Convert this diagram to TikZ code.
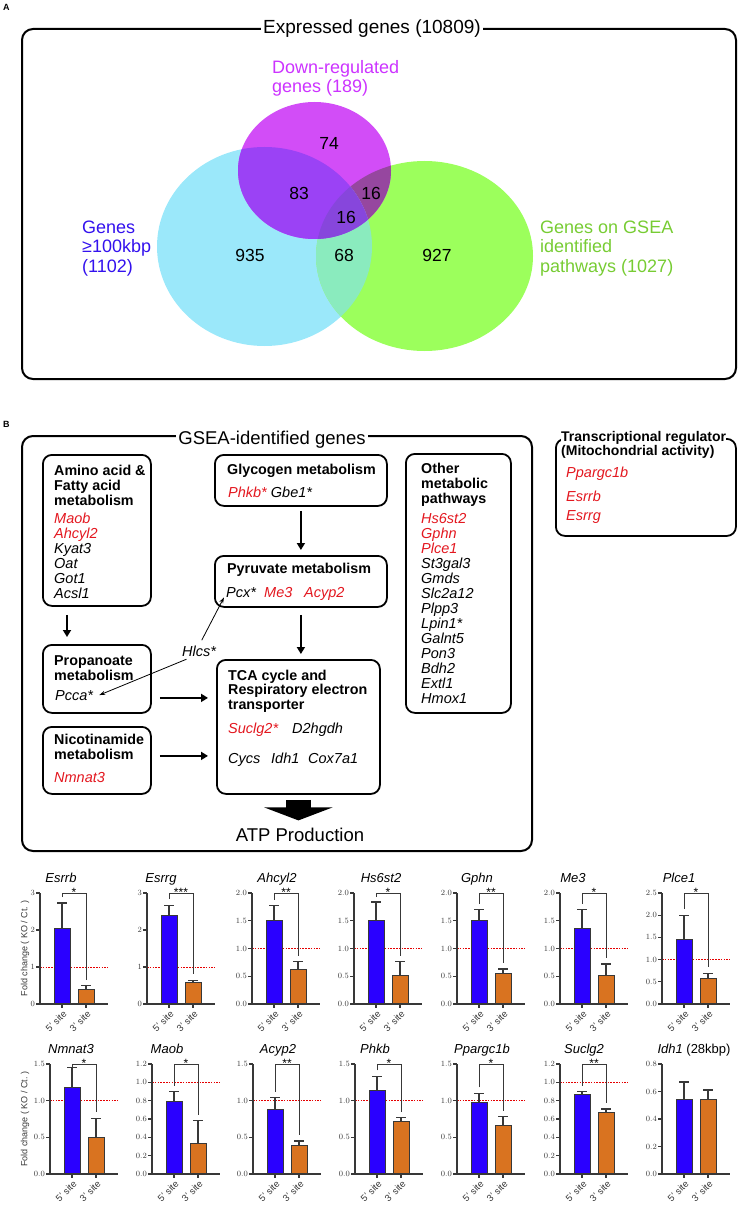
\documentclass[tikz,border=0pt]{standalone}
\usepackage{fontspec}
\setmainfont{Liberation Sans}
\usetikzlibrary{arrows.meta,positioning}
\definecolor{gred}{HTML}{E3171F}
\definecolor{vcy}{HTML}{9BE8FA}
\definecolor{vgr}{HTML}{9CFF5C}
\definecolor{vmg}{HTML}{D24DF7}
\definecolor{vcm}{HTML}{9B42F5}
\definecolor{vgm}{HTML}{96479F}
\definecolor{vcg}{HTML}{8AEBBE}
\definecolor{vall}{HTML}{8746DC}
\definecolor{tmag}{HTML}{CC33FF}
\definecolor{tblu}{HTML}{3311EE}
\definecolor{tgrn}{HTML}{77CC33}
\definecolor{bblu}{HTML}{2A00FF}
\definecolor{bora}{HTML}{D97320}
\definecolor{axc}{HTML}{383838}
\tikzset{
  panel/.style={draw,line width=2pt,rounded corners=11pt,anchor=north west,inner sep=0pt},
  box/.style={draw,line width=1.8pt,rounded corners=9pt,anchor=north west,inner sep=0pt},
  hd/.style={font=\fontsize{14.3}{15}\selectfont\bfseries,align=left,anchor=base west,inner sep=0pt},
  gene/.style={font=\fontsize{14.5}{15}\selectfont\itshape,anchor=base west,inner sep=0pt},
  big/.style={font=\fontsize{19}{22}\selectfont,anchor=base,fill=white,inner xsep=2pt,inner ysep=1pt},
  vlab/.style={font=\fontsize{18}{19.5}\selectfont,align=left,anchor=base west,inner sep=0pt},
  vnum/.style={font=\fontsize{17.5}{20}\selectfont,inner sep=0pt},
  plab/.style={font=\fontsize{9}{10}\selectfont\bfseries,anchor=base west,inner sep=0pt},
  arr/.style={-{Triangle[length=7pt,width=8pt]},line width=2.2pt},
  tarr/.style={-{Stealth[length=6pt,width=4pt]},line width=0.8pt},
  bbar/.style={fill=bblu,draw=axc,line width=0.6pt},
  obar/.style={fill=bora,draw=axc,line width=0.6pt},
  err/.style={draw=axc,line width=1.3pt},
  axl/.style={draw=axc,line width=1.2pt},
  refl/.style={draw=red!90!black,dash pattern=on 1.6pt off 1.2pt,line width=0.9pt},
  brk/.style={draw=axc,line width=1pt},
  ytk/.style={font=\fontsize{8}{9}\selectfont,text=axc,anchor=east,inner sep=0pt},
  xl/.style={font=\fontsize{9.5}{10}\selectfont,text=axc,anchor=east,rotate=45,inner sep=0pt},
  ctitle/.style={font=\fontsize{13}{14}\selectfont\itshape,anchor=base,inner sep=0pt},
  sig/.style={font=\fontsize{12}{12}\selectfont,anchor=base,inner sep=0pt},
  ylab/.style={font=\fontsize{9}{10}\selectfont,text=axc,rotate=90,inner sep=0pt}
}

\begin{document}
\begin{tikzpicture}[x=1pt,y=-1pt]
\useasboundingbox (0,0) rectangle (737,1206);

% panel A
\node[plab] (labA) at (3,11) {A};
\node[panel,minimum width=714pt,minimum height=350pt] (expr) at (21,28) {};
\fill[vcy] (264.5,246.5) ellipse [x radius=107.5pt,y radius=99.5pt];
\fill[vgr] (424.5,256) ellipse [x radius=108.5pt,y radius=95pt];
\fill[vmg] (314.5,170.5) ellipse [x radius=76.5pt,y radius=68.5pt];
\begin{scope}
  \clip (424.5,256) ellipse [x radius=108.5pt,y radius=95pt];
  \fill[vgm] (314.5,170.5) ellipse [x radius=76.5pt,y radius=68.5pt];
\end{scope}
\begin{scope}
  \clip (264.5,246.5) ellipse [x radius=107.5pt,y radius=99.5pt];
  \fill[vcg] (424.5,256) ellipse [x radius=108.5pt,y radius=95pt];
  \fill[vcm] (314.5,170.5) ellipse [x radius=76.5pt,y radius=68.5pt];
  \clip (424.5,256) ellipse [x radius=108.5pt,y radius=95pt];
  \fill[vall] (314.5,170.5) ellipse [x radius=76.5pt,y radius=68.5pt];
\end{scope}
\node[big] (exprT) at (372,34) {Expressed genes (10809)};
% multi-line nodes sit on their last baseline
\node[vlab,text=tmag] (down) at (272,93) {Down-regulated\\genes (189)};
\node[vlab,text=tblu] (long) at (82,272) {Genes\\≥100kbp\\(1102)};
\node[vlab,text=tgrn] (path) at (540,272) {Genes on GSEA\\identified\\pathways (1027)};
\node[vnum] (n74) at (329,143) {74};
\node[vnum] (n83) at (299,193) {83};
\node[vnum] (n16a) at (371,193) {16};
\node[vnum] (n16b) at (346,217) {16};
\node[vnum] (n935) at (250,255) {935};
\node[vnum] (n68) at (344,255) {68};
\node[vnum] (n927) at (437,255) {927};

% panel B
\node[plab] (labB) at (3,427) {B};
\node[panel,minimum width=510pt,minimum height=415pt] (gsea) at (21,435) {};
\node[big,font=\fontsize{18.5}{20}\selectfont] (gseaT) at (272,444) {GSEA-identified genes};

\node[box,minimum width=108pt,minimum height=151pt] (amino) at (42,454) {};
\node[hd] (aminoT) at (54,505) {Amino acid \&\\Fatty acid\\metabolism};
\foreach \g/\c [count=\k] in {Maob/gred,Ahcyl2/gred,Kyat3/black,Oat/black,Got1/black,Acsl1/black}
  \node[gene,text=\c] (am\k) at (54,508+15*\k) {\g};

\node[box,minimum width=172pt,minimum height=51pt] (glyc) at (214,454) {};
\node[hd] (glycT) at (227,474) {Glycogen metabolism};
\node[gene] (glycG) at (228,497) {\textcolor{gred}{Phkb*} Gbe1*};

\node[box,minimum width=172pt,minimum height=51pt] (pyr) at (214,555) {};
\node[hd] (pyrT) at (227,573) {Pyruvate metabolism};
\node[gene] (pcx) at (226,597) {Pcx*};
\node[gene,text=gred] (me3) at (264,597) {Me3};
\node[gene,text=gred] (acyp) at (304,597) {Acyp2};

\node[box,minimum width=105pt,minimum height=259pt] (oth) at (405,453) {};
\node[hd] (othT) at (421,503) {Other\\metabolic\\pathways};
\foreach \g/\c [count=\k] in {Hs6st2/gred,Gphn/gred,Plce1/gred,St3gal3/black,Gmds/black,Slc2a12/black,Plpp3/black,Lpin1*/black,Galnt5/black,Pon3/black,Bdh2/black,Extl1/black,Hmox1/black}
  \node[gene,text=\c] (ot\k) at (421,508+15*\k) {\g};

\node[box,minimum width=108pt,minimum height=68pt] (prop) at (42,644) {};
\node[hd] (propT) at (54,680) {Propanoate\\metabolism};
\node[gene] (pcca) at (55,700) {Pcca*};

\node[box,minimum width=108pt,minimum height=67pt] (nico) at (42,726) {};
\node[hd] (nicoT) at (54,759) {Nicotinamide\\metabolism};
\node[gene,text=gred] (nmn) at (54,782) {Nmnat3};

\node[box,minimum width=163pt,minimum height=134pt] (tca) at (216,659) {};
\node[hd,font=\fontsize{14.3}{14.5}\selectfont\bfseries] (tcaT) at (228,709) {TCA cycle and\\Respiratory electron\\transporter};
\node[gene,text=gred] (sucl) at (228,733) {Suclg2*};
\node[gene] (d2h) at (292,733) {D2hgdh};
\node[gene] (cycs) at (228,763) {Cycs};
\node[gene] (idh) at (271,763) {Idh1};
\node[gene] (cox) at (308,763) {Cox7a1};

\node[gene,anchor=center] (hlcs) at (199,651) {Hlcs*};
\node[big,fill=none,font=\fontsize{18.5}{20}\selectfont] (atp) at (300,841) {ATP Production};

\node[box,minimum width=180pt,minimum height=97pt] (treg) at (555,438) {};
\node[hd,fill=white,font=\fontsize{14}{14}\selectfont\bfseries] (tregT) at (561,455) {Transcriptional regulator\\(Mitochondrial activity)};
\node[gene,text=gred] (ppar) at (566,477) {Ppargc1b};
\node[gene,text=gred] (esrb) at (566,501) {Esrrb};
\node[gene,text=gred] (esrg) at (566,520) {Esrrg};

\draw[arr,shorten <=4pt,shorten >=5pt] (glyc.south) -- (pyr.north);
\draw[arr,shorten <=7pt,shorten >=5pt] (pyr.south) -- (pyr.south |- tca.north);
\draw[arr,shorten <=8pt,shorten >=7pt] ([xshift=25pt]amino.south west) -- ([xshift=25pt]amino.south west |- prop.north);
\draw[arr,shorten <=8pt,shorten >=8pt] ([yshift=-19pt]prop.east) -- ([yshift=-19pt]prop.east -| tca.west);
\draw[arr,shorten <=8pt,shorten >=8pt] ([yshift=4.5pt]nico.east) -- ([yshift=4.5pt]nico.east -| tca.west);
\draw[tarr,shorten <=6pt] (hlcs.north) -- ([xshift=-2pt]pcx.south west);
\draw[tarr,shorten <=7pt] ([xshift=-6pt]hlcs.south) -- ([xshift=6pt]pcca.east);
\draw[line width=25pt,-{Triangle[length=13pt,width=68pt]},shorten <=5pt,shorten >=6pt] (tca.south) -- (tca.south |- atp.north);

% bar charts
\node[ylab] (ylab1) at (25,948.5) {Fold change ( KO / Ct. )};
\node[ylab] (ylab2) at (25,1119) {Fold change ( KO / Ct. )};
\foreach \ax/\yt/\yb/\mx/\n/\pr/\bv/\ber/\ov/\oer/\sg/\ttl/\tx/\hb [count=\ci] in {
  40/893/1004/3/3/0/2.05/2.73/0.40/0.50/*/Esrrb/61/1,
  147/893/1004/3/3/0/2.40/2.67/0.58/0.64/***/Esrrg/161/1,
  252/893/1004/2/4/1/1.50/1.77/0.62/0.76/**/Ahcyl2/277/1,
  354/893/1004/2/4/1/1.50/1.84/0.51/0.76/*/Hs6st2/381/1,
  457/893/1004/2/4/1/1.51/1.70/0.56/0.63/**/Gphn/477/1,
  560/893/1004/2/4/1/1.37/1.70/0.51/0.72/*/Me3/573/1,
  662/893/1004/2.5/5/1/1.46/2.00/0.57/0.69/*/Plce1/679/1,
  50/1064/1174/1.5/3/1/1.18/1.45/0.50/0.76/*/Nmnat3/71/1,
  152/1064/1174/1.2/6/1/0.79/0.90/0.33/0.58/*/Maob/167/1,
  253/1064/1174/1.5/3/1/0.88/1.04/0.39/0.45/**/Acyp2/278/1,
  355/1064/1174/1.5/3/1/1.14/1.33/0.72/0.77/*/Phkb/375/1,
  457/1064/1174/1.5/3/1/0.98/1.10/0.67/0.78/*/Ppargc1b/482/1,
  560/1064/1174/1.2/6/1/0.87/0.90/0.67/0.71/**/Suclg2/584/1,
  662/1064/1174/0.8/4/1/0.54/0.67/0.54/0.61/{}/{Idh1 \textup{(28kbp)}}/694/0}{
  \pgfmathsetmacro\sc{(\yb-\yt)/\mx}
  \pgfmathsetmacro\st{\mx/\n}
  \ifnum\hb=1 \draw[refl] (\ax,\yb-\sc) -- (\ax+68,\yb-\sc); \fi
  \draw[err] (\ax+22,\yb-\bv*\sc) -- (\ax+22,\yb-\ber*\sc) (\ax+17,\yb-\ber*\sc) -- (\ax+27,\yb-\ber*\sc);
  \draw[err] (\ax+46,\yb-\ov*\sc) -- (\ax+46,\yb-\oer*\sc) (\ax+41,\yb-\oer*\sc) -- (\ax+51,\yb-\oer*\sc);
  \draw[bbar] (\ax+14,\yb) rectangle (\ax+30,\yb-\bv*\sc);
  \draw[obar] (\ax+38,\yb) rectangle (\ax+54,\yb-\ov*\sc);
  \draw[axl] (\ax,\yt) -- (\ax,\yb) -- (\ax+68,\yb);
  \foreach \k in {0,...,\n}{
    \pgfmathsetmacro\tv{\k*\st}
    \draw[axl] (\ax-4,\yb-\tv*\sc) -- (\ax,\yb-\tv*\sc);
    \node[ytk] (y\ci-\k) at (\ax-5,\yb-\tv*\sc) {\pgfmathprintnumber[fixed,fixed zerofill,precision=\pr]{\tv}};
  }
  \draw[axl] (\ax+22,\yb) -- (\ax+22,\yb+4) (\ax+46,\yb) -- (\ax+46,\yb+4);
  \node[xl] (xa\ci) at (\ax+25,\yb+8) {5' site};
  \node[xl] (xb\ci) at (\ax+49,\yb+8) {3' site};
  \node[ctitle] (ct\ci) at (\tx,\yt-10.5) {\ttl};
  \ifnum\hb=1
    \pgfmathsetmacro\ly{max(\yt+4,\yb-\ber*\sc-6)}
    \pgfmathsetmacro\ry{\yb-\oer*\sc-6}
    \draw[brk] (\ax+22,\ly) -- (\ax+22,\yt) -- (\ax+46,\yt) -- (\ax+46,\ry);
    \node[sig] (sg\ci) at (\ax+34,\yt+3.5) {\sg};
  \fi
}
\end{tikzpicture}
\end{document}
